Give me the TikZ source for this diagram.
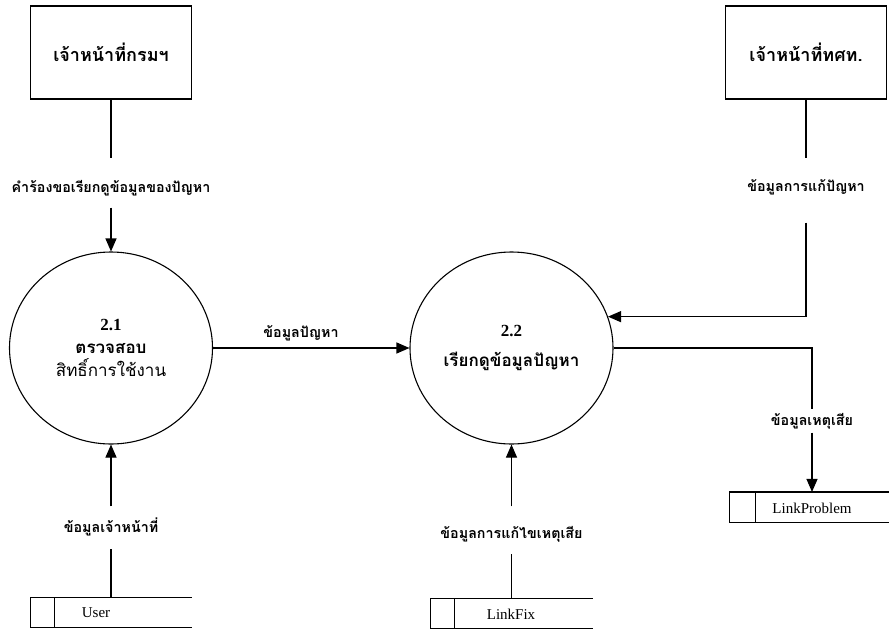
\documentclass[tikz,border=0pt]{standalone}
\usepackage{fontspec}
\setmainfont{Liberation Serif}
\newfontfamily\thaifont[Script=Thai]{Loma}
\usetikzlibrary{arrows.meta,shapes.geometric}

% frame of a data store: open on the right, with a narrow id cell on the left
\newcommand{\storeframe}[2]{%
  \draw (#1.north east) -- (#1.north west) -- (#1.south west) -- (#1.south east);
  \draw ([xshift=#2]#1.north west) -- ([xshift=#2]#1.south west);
}

\begin{document}
\begin{tikzpicture}[x=1pt,y=-1pt,
  line width=1.1pt,
  flow/.style={-{Triangle[length=13pt,width=11pt]}},
  entity/.style={draw, minimum width=161pt, minimum height=93pt, inner sep=0pt,
    font=\thaifont\bfseries\fontsize{18}{20}\selectfont},
  process/.style={draw, ellipse, minimum width=203pt, minimum height=192pt,
    inner sep=0pt, align=center},
  lbl/.style={inner xsep=2pt, inner ysep=0pt, anchor=base,
    font=\thaifont\bfseries\fontsize{14.3}{16}\selectfont},
  store/.style={minimum height=29pt, inner sep=0pt},
  storetext/.style={inner sep=0pt, font=\fontsize{15}{17}\selectfont}
]
\useasboundingbox (0,0) rectangle (889,632);

% external entities
\node[entity] (gov) at (111,52.5) {เจ้าหน้าที่กรมฯ};
\node[entity] (tot) at (806,52.5) {เจ้าหน้าที่ทศท.};

% processes
\node[process, font=\bfseries\fontsize{17}{23}\selectfont] (p1) at (111,348)
  {2.1\\{\thaifont ตรวจสอบ}\\{\thaifont\mdseries สิทธิ์การใช้งาน}};
\node[process, font=\bfseries\fontsize{17}{30}\selectfont] (p2) at (511.5,348)
  {2.2\\{\thaifont เรียกดูข้อมูลปัญหา}};

% data stores
\node[store, minimum width=160pt] (user) at (111,612.5) {};
\node[store, minimum width=161pt] (lfix) at (511.5,613.5) {};
\node[store, minimum width=164pt] (lprob) at (812,507) {};
\storeframe{user}{24pt}
\storeframe{lfix}{24pt}
\storeframe{lprob}{26pt}
\node[storetext] (usert) at (96,613) {User};
\node[storetext] (lfixt) at (511,614) {LinkFix};
\node[storetext] (lprobt) at (812,508) {LinkProblem};

% data-flow labels
\node[lbl, text height=33pt, text depth=15pt] (f1) at (111,192) {คำร้องขอเรียกดูข้อมูลของปัญหา};
\node[lbl, text height=32pt, text depth=31pt] (f2) at (806,191) {ข้อมูลการแก้ปัญหา};
\node[lbl, text height=15pt, text depth=7pt] (f4) at (812,425) {ข้อมูลเหตุเสีย};
\node[lbl, text height=25pt, text depth=16pt] (f5) at (111,532) {ข้อมูลเจ้าหน้าที่};
\node[lbl, text height=31pt, text depth=15pt] (f6) at (511.5,538) {ข้อมูลการแก้ไขเหตุเสีย};
\node[lbl, anchor=center] (f3) at (301,333) {ข้อมูลปัญหา};

% data flows
\draw (gov) -- (f1);
\draw[flow] (f1) -- (p1);
\draw (tot) -- (f2);
\draw[flow] (f2.south) |- (p2.18.8);
\draw[flow] (p1) -- (p2);
\draw (p2.east) -| (f4);
\draw[flow] (f4) -- (lprob);
\draw (user) -- (f5);
\draw[flow] (f5) -- (p1);
\draw (lfix) -- (f6);
\draw[flow] (f6) -- (p2);
\end{tikzpicture}
\end{document}
